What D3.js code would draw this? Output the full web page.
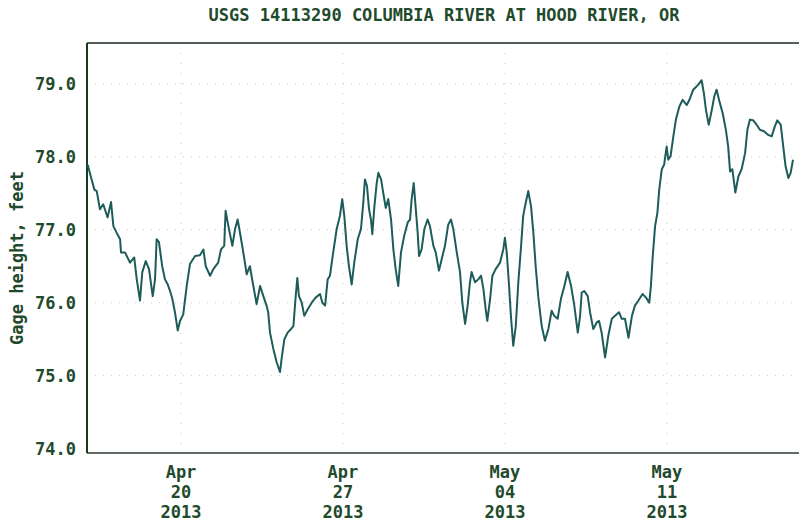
<!DOCTYPE html>
<html><head><meta charset="utf-8">
<script src="https://cdn.jsdelivr.net/npm/d3@7"></script>
<style>
html,body{margin:0;padding:0;background:#fff;}
svg{display:block;}
text{font-family:"DejaVu Sans Mono","Liberation Mono",monospace;font-weight:bold;fill:#1f4a2c;}
</style></head>
<body>
<svg id="chart" width="799" height="523"></svg>
<script>
const title = "USGS 14113290 COLUMBIA RIVER AT HOOD RIVER, OR";
const yLabel = "Gage height, feet";
const plotStart = "2013-04-15T22:30:00";   // left edge of the plot
const plotEndDays = 30.77;                  // days from plotStart to right edge
const yTicks = [74, 75, 76, 77, 78, 79];
const xTickDates = ["2013-04-20", "2013-04-27", "2013-05-04", "2013-05-11"];

// days since plotStart
const dayFromStart = [
0.03,0.20,0.32,0.42,0.56,0.70,0.89,1.04,1.14,1.28,1.43,1.47,1.64,1.86,2.04,2.15,2.29,2.39,2.54,2.68,
2.84,2.94,3.01,3.11,3.25,3.37,3.49,3.59,3.69,3.80,3.92,4.02,4.16,4.31,4.45,4.67,4.88,5.03,5.13,5.32,
5.46,5.67,5.79,5.93,5.99,6.11,6.28,6.40,6.51,6.66,6.80,6.90,7.04,7.16,7.33,7.48,7.62,7.77,7.83,7.91,
8.05,8.20,8.34,8.41,8.53,8.67,8.82,8.92,9.02,9.09,9.16,9.28,9.39,9.54,9.71,9.88,10.07,10.17,10.29,10.40,
10.50,10.64,10.79,10.93,11.03,11.12,11.22,11.32,11.44,11.55,11.70,11.84,11.94,12.01,12.10,12.19,12.27,12.33,12.42,12.52,
12.59,12.71,12.80,12.91,13.02,13.14,13.24,13.34,13.45,13.57,13.71,13.86,13.96,14.03,14.12,14.20,14.29,14.35,14.46,14.58,
14.72,14.82,14.97,15.07,15.21,15.33,15.47,15.61,15.73,15.83,15.98,16.12,16.22,16.34,16.45,16.55,16.62,16.77,16.91,17.03,
17.13,17.23,17.30,17.42,17.52,17.66,17.85,17.99,18.06,18.14,18.24,18.32,18.42,18.53,18.64,18.76,18.85,18.96,19.07,19.19,
19.29,19.39,19.50,19.65,19.79,19.94,20.08,20.19,20.34,20.48,20.63,20.77,20.92,21.06,21.21,21.31,21.38,21.49,21.64,21.74,
21.88,22.03,22.13,22.24,22.39,22.53,22.68,22.82,22.99,23.11,23.25,23.40,23.55,23.68,23.83,24.01,24.16,24.30,24.37,24.45,
24.55,24.65,24.73,24.84,24.94,25.05,25.12,25.22,25.34,25.45,25.60,25.74,25.92,26.06,26.20,26.42,26.56,26.66,26.75,26.87,
27.00,27.11,27.21,27.33,27.47,27.61,27.71,27.79,27.89,28.02,28.15,28.29,28.44,28.54,28.65,28.79,28.94,29.08,29.26,29.44,
29.59,29.73,29.83,29.98,30.09,30.19,30.31,30.41,30.51
];
const gageHeight = [
77.89,77.69,77.55,77.53,77.28,77.35,77.17,77.38,77.05,76.96,76.87,76.69,76.69,76.55,76.62,76.32,76.03,76.42,76.57,76.46,
76.09,76.32,76.87,76.83,76.50,76.32,76.25,76.16,76.05,75.87,75.62,75.75,75.84,76.23,76.53,76.64,76.65,76.73,76.50,76.37,
76.46,76.55,76.73,76.78,77.26,77.05,76.78,77.01,77.14,76.87,76.60,76.39,76.50,76.28,75.98,76.23,76.09,75.95,75.87,75.59,
75.37,75.18,75.05,75.23,75.50,75.59,75.64,75.68,76.09,76.34,76.09,76.00,75.82,75.91,76.00,76.07,76.12,76.00,75.96,76.32,
76.37,76.69,77.01,77.19,77.42,77.19,76.78,76.50,76.25,76.55,76.87,77.01,77.37,77.69,77.60,77.28,77.14,76.94,77.32,77.64,
77.78,77.69,77.51,77.30,77.42,77.14,76.73,76.46,76.23,76.69,76.92,77.10,77.14,77.42,77.64,77.32,76.96,76.64,76.73,77.01,
77.14,77.05,76.78,76.69,76.44,76.60,76.78,77.07,77.14,77.01,76.69,76.42,76.00,75.71,75.96,76.28,76.42,76.28,76.32,76.37,
76.19,75.91,75.75,76.05,76.37,76.46,76.55,76.73,76.89,76.69,76.23,75.82,75.41,75.68,76.28,76.78,77.19,77.37,77.53,77.32,
76.96,76.50,76.09,75.68,75.48,75.64,75.89,75.82,75.78,76.05,76.23,76.42,76.23,75.96,75.59,75.82,76.14,76.16,76.09,75.87,
75.64,75.73,75.75,75.59,75.25,75.55,75.78,75.82,75.87,75.78,75.78,75.52,75.82,75.96,76.03,76.12,76.07,76.00,76.23,76.64,
77.05,77.23,77.55,77.83,77.89,78.14,77.96,78.01,78.28,78.51,78.69,78.78,78.71,78.80,78.92,78.99,79.05,78.87,78.64,78.44,
78.64,78.83,78.92,78.76,78.60,78.37,78.14,77.80,77.83,77.51,77.73,77.83,78.05,78.37,78.51,78.50,78.44,78.37,78.35,78.30,
78.28,78.42,78.50,78.44,78.14,77.87,77.71,77.78,77.96
];

const svg = d3.select("#chart");
const pLeft = 87, pRight = 799, pTop = 43, pBottom = 453;
const start = new Date(plotStart);
const DAY = 86400000;
const x = d3.scaleTime()
  .domain([start, new Date(start.getTime() + plotEndDays * DAY)])
  .range([pLeft, pRight]);
const y = d3.scaleLinear().domain([73.94, 79.56]).range([pBottom, pTop]);

const n = Math.min(dayFromStart.length, gageHeight.length);
const data = d3.range(n).map(i => ({t: new Date(start.getTime() + dayFromStart[i] * DAY), v: gageHeight[i]}));
const xTicks = xTickDates.map(s => new Date(s + "T00:00:00"));
const fmtMon = d3.timeFormat("%b"), fmtDay = d3.timeFormat("%d"), fmtYr = d3.timeFormat("%Y");

// grid (faint dotted)
const grid = svg.append("g");
grid.selectAll("line.h").data(yTicks.slice(1)).join("line")
  .attr("x1", pLeft).attr("x2", pRight).attr("y1", d => y(d)).attr("y2", d => y(d))
  .attr("stroke", "#c8c8b8").attr("stroke-width", 1).attr("stroke-dasharray", "1,7");
grid.selectAll("line.v").data(xTicks).join("line")
  .attr("x1", d => x(d)).attr("x2", d => x(d)).attr("y1", pTop).attr("y2", pBottom)
  .attr("stroke", "#c8c8b8").attr("stroke-width", 1).attr("stroke-dasharray", "1,9");

// frame
svg.append("line").attr("x1", pLeft).attr("x2", pRight).attr("y1", pTop).attr("y2", pTop)
  .attr("stroke", "#1a2a1e").attr("stroke-width", 1.6);
svg.append("line").attr("x1", pLeft).attr("x2", pRight).attr("y1", pBottom).attr("y2", pBottom)
  .attr("stroke", "#2a3a2e").attr("stroke-width", 1.6);
svg.append("line").attr("x1", pLeft).attr("x2", pLeft).attr("y1", pTop).attr("y2", pBottom)
  .attr("stroke", "#143c1e").attr("stroke-width", 2);

// data line
svg.append("path").datum(data)
  .attr("d", d3.line().x(d => x(d.t)).y(d => y(d.v)))
  .attr("fill", "none").attr("stroke", "#1d5c5a").attr("stroke-width", 2)
  .attr("stroke-linejoin", "round");

// y tick labels
svg.append("g").selectAll("text").data(yTicks).join("text")
  .attr("x", 76).attr("y", d => y(d)).attr("dy", "0.36em")
  .attr("text-anchor", "end").attr("font-size", 17)
  .text(d => d3.format(".1f")(d));

// x tick labels
const xl = svg.append("g").selectAll("g").data(xTicks).join("g")
  .attr("transform", d => `translate(${x(d)},0)`);
xl.append("text").attr("y", 478).attr("text-anchor", "middle").attr("font-size", 17).text(d => fmtMon(d));
xl.append("text").attr("y", 498).attr("text-anchor", "middle").attr("font-size", 17).text(d => fmtDay(d));
xl.append("text").attr("y", 518).attr("text-anchor", "middle").attr("font-size", 17).text(d => fmtYr(d));

// title
svg.append("text").attr("x", 444).attr("y", 21).attr("text-anchor", "middle")
  .attr("font-size", 17).text(title);

// y label
svg.append("text").attr("transform", "translate(17,258) rotate(-90)")
  .attr("text-anchor", "middle").attr("dy", "0.36em").attr("font-size", 17).text(yLabel);
</script>
</body></html>
